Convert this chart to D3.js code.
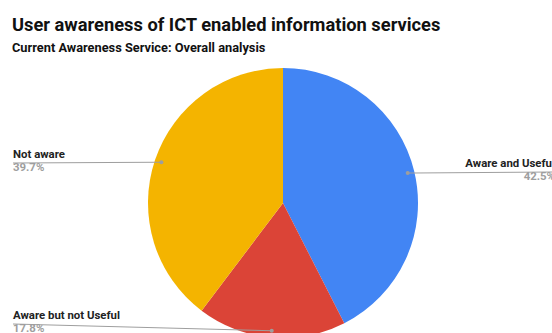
<!DOCTYPE html>
<html>
<head>
<meta charset="utf-8">
<script src="https://cdn.jsdelivr.net/npm/d3@7"></script>
<style>
  body { margin: 0; background: #fff; }
  svg { font-family: Roboto, Arial, sans-serif; display: block; }
  .lbl { font-size: 11.4px; font-weight: bold; fill: #222; }
  .pct { font-size: 11.4px; font-weight: bold; fill: #9e9e9e; }
</style>
</head>
<body>
<svg id="chart" width="552" height="333"></svg>
<script>
var categories = ['Aware and Useful', 'Aware but not Useful', 'Not aware'];
var values = [42.5, 17.8, 39.7];
var colors = ['#4285f4', '#db4437', '#f4b400'];

// where each label sits: side and text baseline
var labelPos = [
	{side: 'right', x: 555, y: 167},
	{side: 'left', x: 13, y: 319},
	{side: 'left', x: 13, y: 158}
];

var svg = d3.select('#chart');

svg.append('text')
	.attr('x', 12).attr('y', 31)
	.style('font-size', '18.3px').style('font-weight', 'bold').attr('fill', '#111')
	.text('User awareness of ICT enabled information services');

svg.append('text')
	.attr('x', 12).attr('y', 52)
	.style('font-size', '12.8px').style('font-weight', 'bold').attr('fill', '#111')
	.text('Current Awareness Service: Overall analysis');

var cx = 283, cy = 203, radius = 135;

var pie = d3.pie().sort(null).value(d => d);
var arcs = pie(values);

var arc = d3.arc().innerRadius(0).outerRadius(radius);
var dotArc = d3.arc().innerRadius(radius * 0.95).outerRadius(radius * 0.95);

var g = svg.append('g').attr('transform', 'translate(' + cx + ',' + cy + ')');

g.selectAll('path')
	.data(arcs)
	.enter()
	.append('path')
		.attr('d', arc)
		.attr('fill', (d, i) => colors[i]);

var labels = svg.append('g');

arcs.forEach(function(d, i){
	var c = dotArc.centroid(d);
	var px = c[0] + cx, py = c[1] + cy;
	var p = labelPos[i];
	var lineY = p.y + 5;
	var endX = p.side === 'right' ? 552 : p.x;

	labels.append('path')
		.attr('d', 'M' + px + ',' + py + 'L' + endX + ',' + lineY)
		.attr('stroke', '#9e9e9e').attr('stroke-width', 1).attr('fill', 'none');

	labels.append('circle')
		.attr('cx', px).attr('cy', py).attr('r', 2)
		.attr('fill', '#9e9e9e');

	labels.append('text')
		.attr('class', 'lbl')
		.attr('x', p.x).attr('y', p.y)
		.attr('text-anchor', p.side === 'right' ? 'end' : 'start')
		.text(categories[i]);

	labels.append('text')
		.attr('class', 'pct')
		.attr('x', p.x).attr('y', p.y + 13)
		.attr('text-anchor', p.side === 'right' ? 'end' : 'start')
		.text(values[i].toFixed(1) + '%');
});
</script>
</body>
</html>
